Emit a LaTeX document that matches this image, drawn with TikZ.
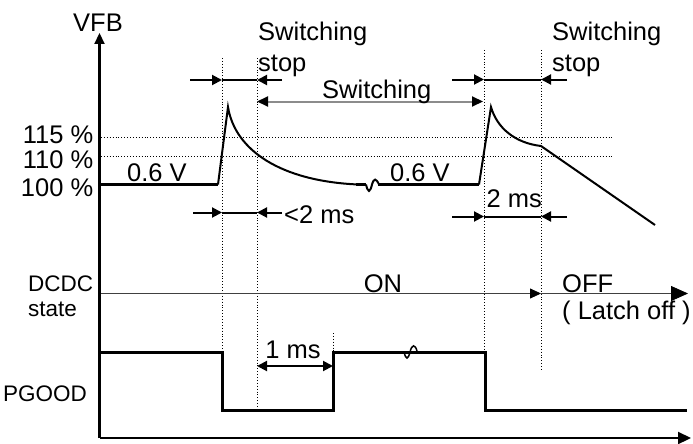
\documentclass[tikz,border=0pt]{standalone}
\usepackage{fontspec}
\setmainfont{Liberation Sans}
\usetikzlibrary{arrows.meta}
\begin{document}
\begin{tikzpicture}[x=1pt,y=-1pt,
  every node/.style={inner sep=0pt, font=\fontsize{25.5}{31}\selectfont},
  smallfont/.style={font=\fontsize{22.5}{25}\selectfont},
  sig/.style={line width=3pt, line join=miter},
  curve/.style={line width=2pt, line join=miter},
  guide/.style={line width=0.9pt, dotted},
  dim/.style={line width=2pt},
  tipS/.style={-{Triangle[length=10pt,width=10pt]}},
  axis/.style={line width=2.2pt},
]
\useasboundingbox (0,0) rectangle (693,444);

% axes
\draw[axis, -{Triangle[length=11pt,width=10pt]}] (99.5,438) -- (99.5,33);
\draw[axis, -{Triangle[length=13pt,width=12pt]}] (99.5,438) -- (691,438);

% axis labels
\node[anchor=base] (vfb) at (98,32) {VFB};
\node[anchor=base east] (p115) at (93.5,143) {115 \%};
\node[anchor=base east] (p110) at (93.5,168) {110 \%};
\node[anchor=base east] (p100) at (93.5,196.5) {100 \%};
\node[smallfont, anchor=north west, align=left] (dcdc) at (28,275.5) {DCDC\\state};
\node[smallfont, anchor=base west] (pgood) at (3,401.5) {PGOOD};

% dotted reference lines
\draw[guide] (101,137) -- (613,137);
\draw[guide] (101,156.5) -- (613,156.5);
\draw[guide] (222,58) -- (222,352);
\draw[guide] (257,58) -- (257,410);
\draw[guide] (484,50) -- (484,352);
\draw[guide] (541,50) -- (541,370);
\draw[guide] (333,333) -- (333,352);

% VFB waveform
\draw[sig] (101,184.5) -- (218,184.5);
\draw[curve] (218,184.5) -- (228,107) .. controls (235,150) and (280,181) .. (358,184.5);
\draw[sig] (356,184.5) -- (366,184.5);
\draw[curve] (366,184.5) .. controls (368,193) and (370,193) .. (372,184.5)
  .. controls (374,178) and (376,178) .. (379,184.5);
\draw[sig] (378,184.5) -- (479,184.5);
\draw[curve] (479,184.5) -- (491,107) .. controls (497,128) and (515,143) .. (541,146) -- (655,225);

\node[anchor=base west] (v1) at (127,181.5) {0.6 V};
\node[anchor=base west] (v2) at (390,181.5) {0.6 V};

% switching stop labels and dimensions
\node[anchor=north west, align=left] (ss1) at (258,22) {Switching\\stop};
\node[anchor=north west, align=left] (ss2) at (552,22) {Switching\\stop};

\draw[dim, tipS] (190,80) -- (222,80);
\draw[dim] (222,80) -- (257,80);
\draw[dim, tipS] (282,80) -- (257,80);

\draw[dim, tipS] (452,79.5) -- (484,79.5);
\draw[dim] (484,79.5) -- (541,79.5);
\draw[dim, tipS] (567,79.5) -- (541,79.5);

\draw[line width=2pt, color=black!45, {Triangle[length=11pt,width=10pt,black]}-{Triangle[length=11pt,width=10pt,black]}] (257,101.5) -- (483,101.5);
\node[anchor=base west] (sw) at (322,98) {Switching};

% <2 ms
\draw[dim, tipS] (193,212.5) -- (222,212.5);
\draw[dim] (222,212.5) -- (257,212.5);
\draw[dim, tipS] (282,212.5) -- (257,212.5);
\node[anchor=base west] (lt2) at (284,223) {<2 ms};

% 2 ms
\draw[dim, tipS] (452,216.5) -- (484,216.5);
\draw[dim] (484,216.5) -- (541,216.5);
\draw[dim, tipS] (567,216.5) -- (541,216.5);
\node[anchor=base west] (t2) at (486.5,207) {2 ms};

% DCDC state
\draw[line width=0.8pt, color=black!75, -{Triangle[length=11pt,width=10pt,black]}] (101,293.5) -- (541,293.5);
\draw[line width=0.8pt, color=black!75, -{Triangle[length=17pt,width=15pt,black]}] (541,293.5) -- (688,293.5);
\node[anchor=base] (on) at (383,292) {ON};
\node[anchor=north west, align=left, font=\fontsize{25.5}{27}\selectfont] (off) at (562,274) {OFF\\( Latch off )};

% PGOOD waveform
\draw[sig] (101,352) -- (222,352) -- (222,410) -- (333,410) -- (333,352) -- (485,352) -- (485,410) -- (687,410);
\draw[line width=1.5pt] (404,352) .. controls (406,360) and (408,360) .. (410,352)
  .. controls (412,344) and (415,344) .. (417,351);

% 1 ms
\draw[dim, {Triangle[length=10pt,width=10pt]}-{Triangle[length=10pt,width=10pt]}] (257,366) -- (333,366);
\node[anchor=base] (t1) at (293,358) {1 ms};
\end{tikzpicture}
\end{document}
